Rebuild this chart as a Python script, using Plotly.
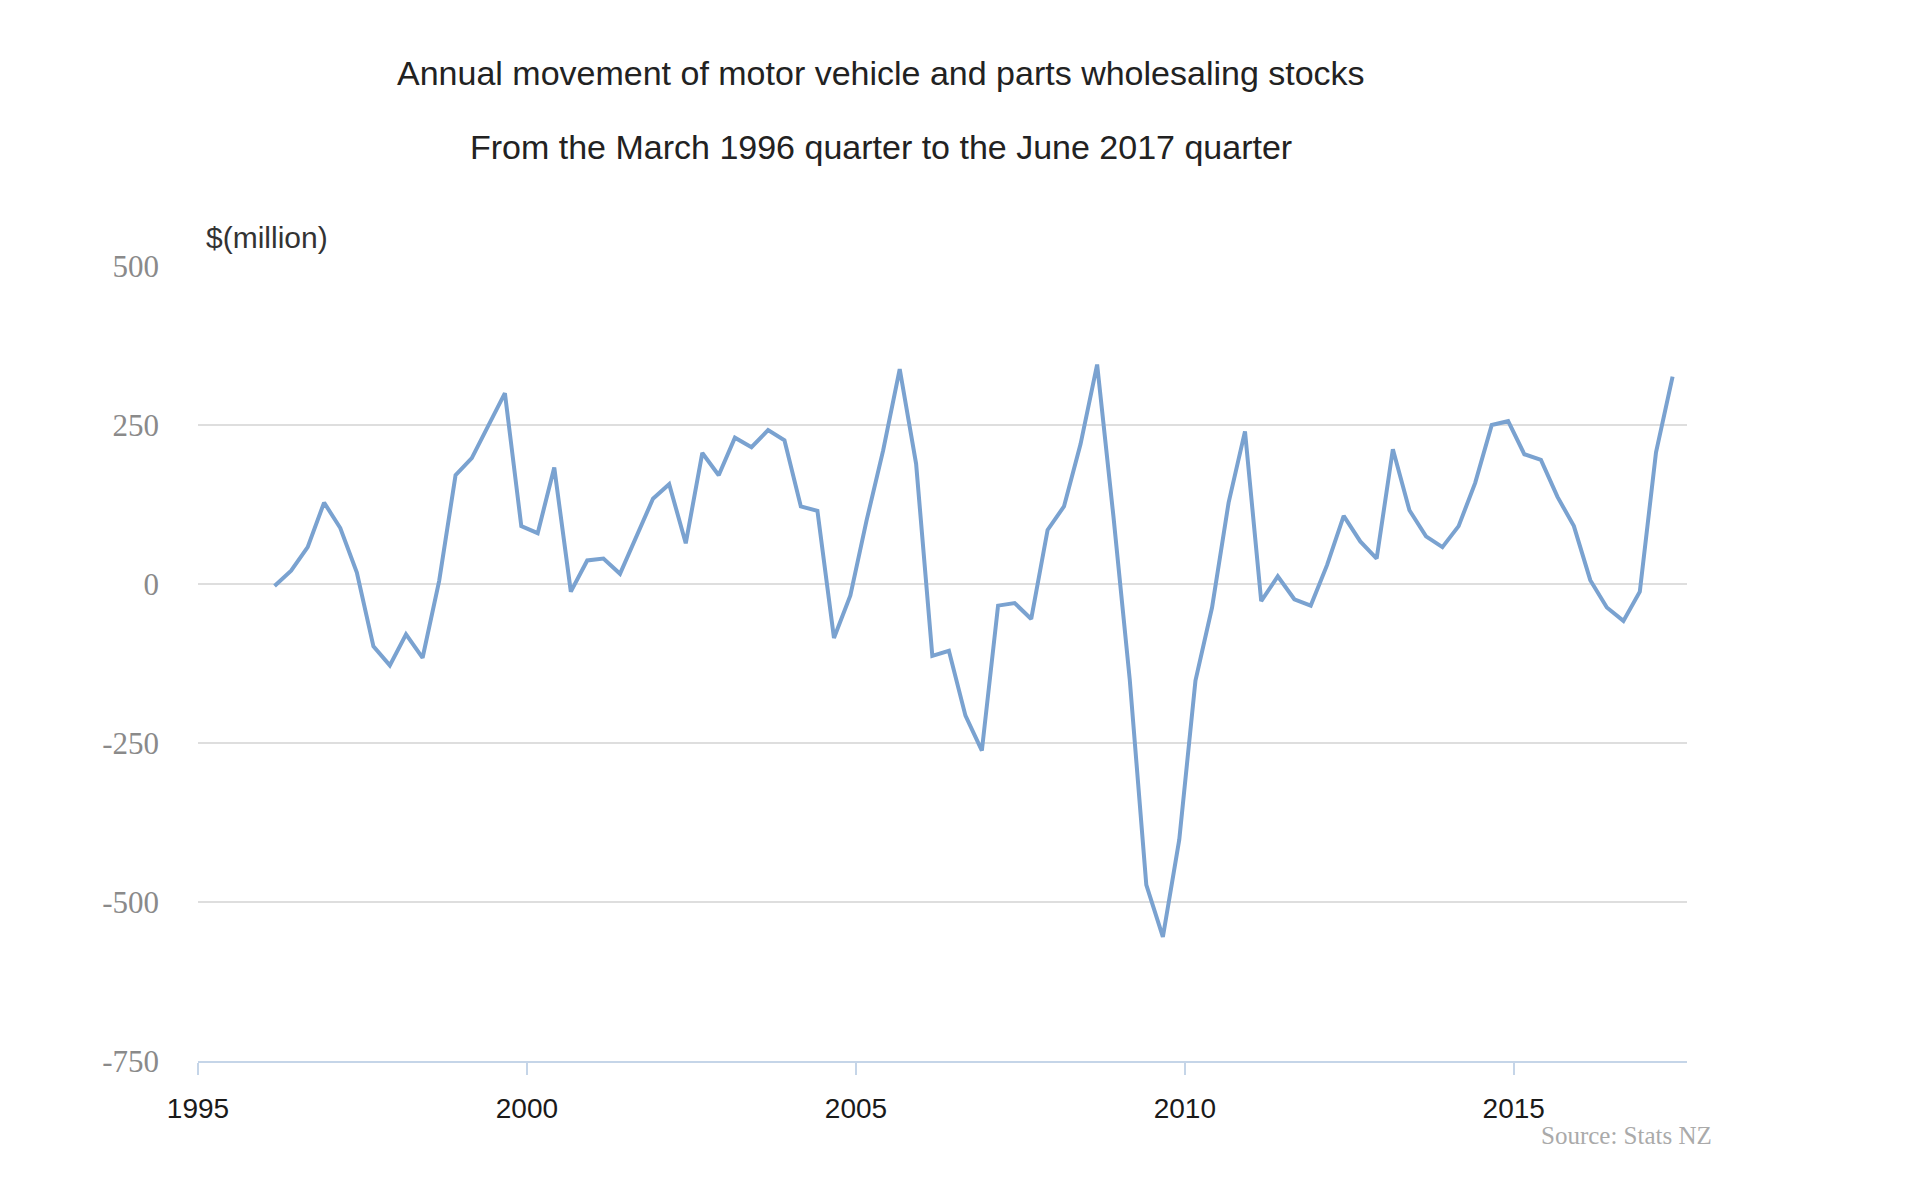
import pandas as pd
import plotly.graph_objects as go

LINE_COLOR = "#7aa2d0"
GRID_COLOR = "#dedede"
AXIS_COLOR = "#c5d5e8"

# quarterly annual movement, $(million), March 1996 quarter .. June 2017 quarter
stock_movement = [
    -3, 21, 58, 128, 88, 18, -98, -128, -79, -116,
    5, 171, 198, 250, 300, 91, 80, 183, -12, 37,
    40, 16, 76, 134, 157, 64, 206, 171, 230, 215,
    242, 226, 122, 115, -85, -18, 100, 210, 338, 189,
    -113, -105, -207, -262, -34, -30, -55, 85, 122, 220,
    345, 105, -150, -473, -555, -402, -152, -37, 128, 240,
    -27, 12, -24, -34, 30, 107, 67, 40, 212, 116,
    75, 58, 91, 159, 250, 256, 204, 195, 137, 91,
    6, -37, -58, -12, 207, 326,
]
quarters = pd.date_range("1996-03-01", periods=len(stock_movement), freq="3MS")

y_ticks = [-750, -500, -250, 0, 250, 500]
y_tick_text = ["-750", "-500", "-250", "0", "250", "500"]

fig = go.Figure()
fig.add_trace(go.Scatter(
    x=quarters, y=stock_movement,
    mode="lines",
    line=dict(color=LINE_COLOR, width=4),
    showlegend=False,
))

fig.update_layout(
    width=1919, height=1196,
    plot_bgcolor="white", paper_bgcolor="white",
    margin=dict(l=190, r=240, t=258, b=143),
    font=dict(family="Liberation Sans, Arial, sans-serif", size=26, color="#222"),
    xaxis=dict(
        type="date",
        range=["1995-01-01", "2017-08-20"],
        tick0="1995-01-01", dtick="M60", tickformat="%Y",
        showgrid=False, zeroline=False,
        showline=True, linecolor=AXIS_COLOR, linewidth=2,
        ticks="outside", ticklen=12, tickwidth=2, tickcolor=AXIS_COLOR,
        ticklabelstandoff=9,
        tickfont=dict(size=28, color="#1a1a1a"),
    ),
    yaxis=dict(
        range=[-750, 500],
        tickvals=y_ticks, ticktext=y_tick_text,
        showgrid=True, gridcolor=GRID_COLOR, gridwidth=2,
        zeroline=False, showline=False, ticks="",
        ticklabelstandoff=38,
        tickfont=dict(family="Liberation Serif, Times New Roman, serif", size=31, color="#8a8a8a"),
    ),
    annotations=[
        dict(text="Annual movement of motor vehicle and parts wholesaling stocks",
             xref="paper", yref="paper", x=0.4587, y=1.2428,
             xanchor="center", yanchor="middle", showarrow=False,
             font=dict(size=34, color="#222")),
        dict(text="From the March 1996 quarter to the June 2017 quarter",
             xref="paper", yref="paper", x=0.4587, y=1.1497,
             xanchor="center", yanchor="middle", showarrow=False,
             font=dict(size=34, color="#222")),
        dict(text="$(million)",
             xref="paper", yref="paper", x=0.004, y=1.036,
             xanchor="left", yanchor="middle", showarrow=False,
             font=dict(size=30, color="#333")),
        dict(text="Source: Stats NZ",
             xref="paper", yref="paper", x=1.018, y=-0.094,
             xanchor="right", yanchor="middle", showarrow=False,
             font=dict(family="Liberation Serif, Times New Roman, serif", size=25, color="#aaaaaa")),
    ],
)

fig.write_html("out.html")
